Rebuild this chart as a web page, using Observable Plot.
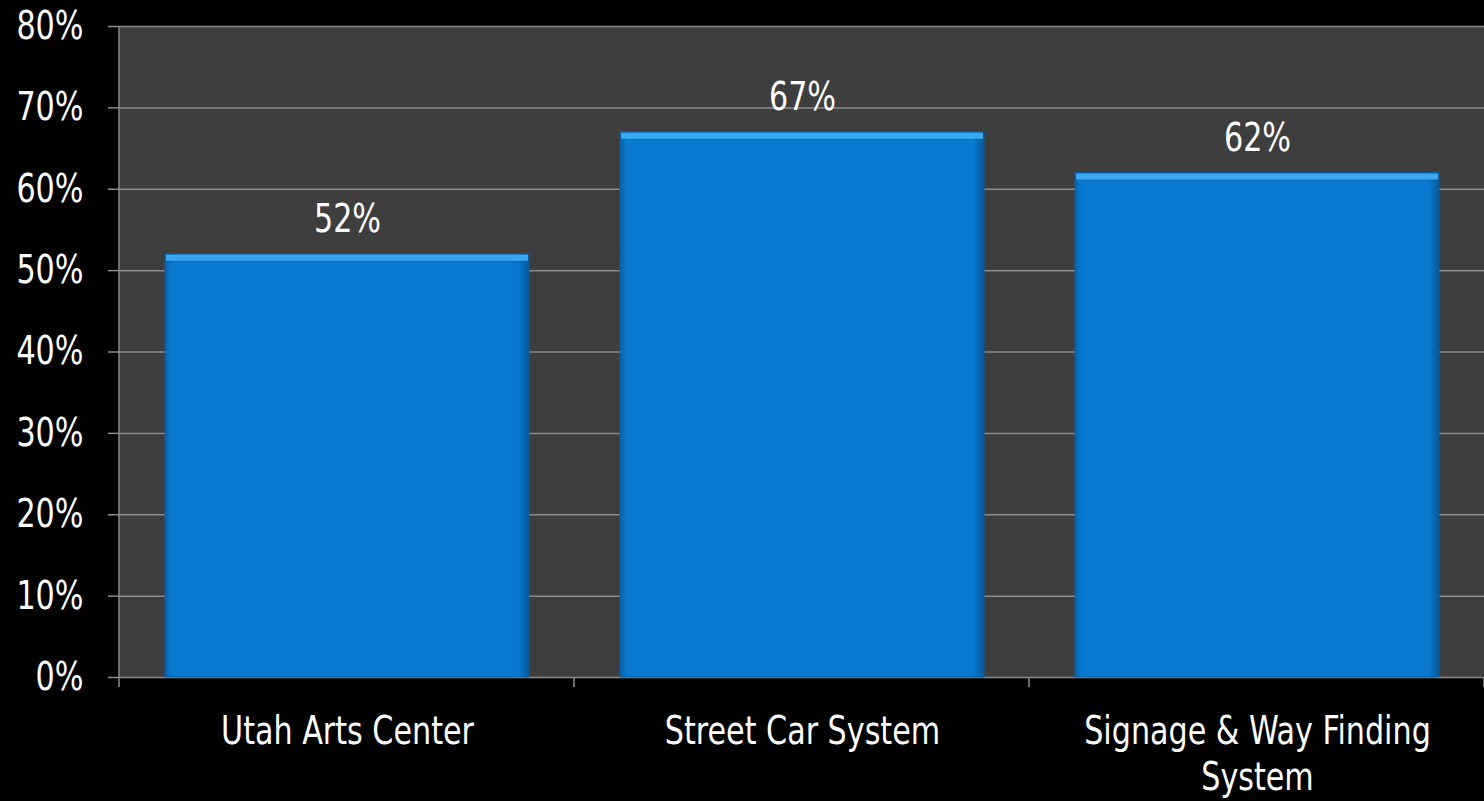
<!DOCTYPE html>
<html>
<head>
<meta charset="utf-8">
<script src="https://cdn.jsdelivr.net/npm/d3@7"></script>
<script src="https://cdn.jsdelivr.net/npm/@observablehq/plot@0.6"></script>
<style>
  html, body { margin: 0; padding: 0; background: #000; }
  #chart svg { display: block; }
</style>
</head>
<body>
<div id="chart"></div>
<script>
const categories = ["Utah Arts Center", "Street Car System", "Signage & Way Finding System"];
const values = [0.52, 0.67, 0.62];
const yTicks = [0, 0.1, 0.2, 0.3, 0.4, 0.5, 0.6, 0.7, 0.8];

const data = categories.map((c, i) => ({category: c, value: values[i]}));

const FONT = '"Liberation Sans Narrow", "DejaVu Sans Condensed", "Roboto Condensed", sans-serif';
const GRID = "#8c8c8c";

const chart = Plot.plot({
  width: 1484,
  height: 801,
  marginLeft: 119,
  marginRight: 0,
  marginTop: 26,
  marginBottom: 124,
  style: {background: "#000", color: "#fff", fontFamily: FONT, fontSize: "39px"},
  x: {domain: categories, paddingInner: 0.2, paddingOuter: 0.1, label: null},
  y: {domain: [0, 0.8], label: null},
  marks: [
    Plot.frame({fill: "#3e3e3e", stroke: null}),
    Plot.gridY(yTicks, {stroke: GRID, strokeOpacity: 1, strokeWidth: 1.5}),
    Plot.barY(data, {x: "category", y: "value", fill: "url(#barGrad)", stroke: "#0a5c9c", strokeWidth: 1}),
    Plot.tickY(data, {x: "category", y: "value", stroke: "#3aa8ef", strokeWidth: 6, dy: 3.5, inset: 1}),
    Plot.text(data, {x: "category", y: "value", text: d => d3.format(".0%")(d.value), fill: "#fff", fontSize: 39, lineAnchor: "bottom", dy: -22}),
    Plot.axisY({ticks: yTicks, tickFormat: d3.format(".0%"), tickSize: 11, tickPadding: 25, stroke: GRID, strokeWidth: 1.5, fontSize: 39, label: null}),
    Plot.axisX({tickSize: 0, tickPadding: 34, lineWidth: 11, lineHeight: 1.18, fontSize: 39, label: null})
  ]
});

document.getElementById("chart").appendChild(chart);

const svg = d3.select(chart);
const defs = svg.insert("defs", ":first-child");
const grad = defs.append("linearGradient").attr("id", "barGrad").attr("x1", "0").attr("x2", "1").attr("y1", "0").attr("y2", "0");
grad.append("stop").attr("offset", "0%").attr("stop-color", "#0864b0");
grad.append("stop").attr("offset", "2%").attr("stop-color", "#0879cf");
grad.append("stop").attr("offset", "97%").attr("stop-color", "#0879cf");
grad.append("stop").attr("offset", "100%").attr("stop-color", "#065a9a");

// axis line and band-boundary ticks from the plot's scales
const xs = chart.scale("x");
const ys = chart.scale("y");
const step = (xs.range[1] - xs.range[0]) / categories.length;
const y0 = ys.apply(0), yTop = ys.apply(0.8);
const g = svg.append("g").attr("stroke", GRID).attr("stroke-width", 1.5);
g.append("line").attr("x1", xs.range[0]).attr("x2", xs.range[0]).attr("y1", yTop).attr("y2", y0 + 10);
categories.forEach((c, i) => {
  const bx = xs.range[0] + step * (i + 1);
  g.append("line").attr("x1", bx).attr("x2", bx).attr("y1", y0).attr("y2", y0 + 10);
});

// condense all text horizontally to mimic the narrow typeface
const SQUEEZE = 0.86;
chart.querySelectorAll("text").forEach(t => {
  const spans = t.querySelectorAll("tspan");
  const targets = spans.length ? Array.from(spans) : [t];
  targets.forEach(el => {
    const len = el.getComputedTextLength();
    if (len > 0) {
      el.setAttribute("textLength", (len * SQUEEZE).toFixed(1));
      el.setAttribute("lengthAdjust", "spacingAndGlyphs");
    }
  });
});
</script>
</body>
</html>
